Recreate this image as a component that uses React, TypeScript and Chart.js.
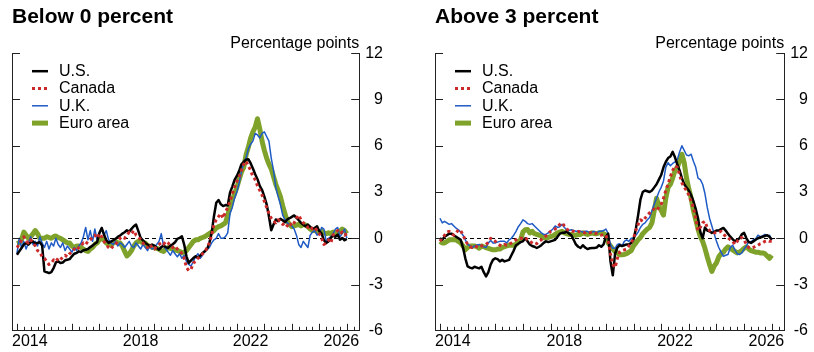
import React, { useEffect, useRef } from 'react';
import { Chart, registerables } from 'chart.js';

Chart.register(...registerables);

const FONT = "'Liberation Sans', Arial, Helvetica, sans-serif";
const AXIS = '#222222';

// Monthly observations, Jan 2014 .. Jan 2026
const START_YEAR = 2014;
const X_MIN = 2013.82;
const X_MAX = 2026.45;
const xTickValues = [X_MIN, 2018.5, 2022.5, X_MAX];
const xTickLabels = ['2014', '2018', '2022', '2026'];
const yTickValues = [-6, -3, 0, 3, 6, 9, 12];
const seriesNames = ['U.S.', 'Canada', 'U.K.', 'Euro area'];
const panelTitles = ['Below 0 percent', 'Above 3 percent'];
const unitLabel = 'Percentage points';

// ---- Panel 1: Below 0 percent ----
const belowUS = [
  -1.07, -0.85, -0.63, -0.41, -0.3, -0.41, -0.26, -0.2, -0.35, -0.3, -0.26, -0.48,
  -2.15, -2.2, -2.26, -2.2, -1.93, -1.57, -1.5, -1.6, -1.57, -1.43, -1.39, -1.35,
  -1.17, -1.0, -0.96, -0.85, -0.89, -0.78, -0.74, -0.7, -0.57, -0.48, -0.35, -0.26,
  0.35, 0.67, 0.24, -0.13, -0.3, -0.22, -0.13, -0.04, 0.09, 0.17, 0.3, 0.39,
  0.52, 0.43, 0.61, 0.78, 0.89, 0.46, 0.02, -0.13, -0.3, -0.41, -0.52, -0.41,
  -0.48, -0.63, -0.74, -0.57, -0.48, -0.57, -0.63, -0.48, -0.39, -0.26, -0.04, 0.02,
  0.13, -0.41, -1.17, -1.6, -1.43, -1.28, -1.17, -1.28, -1.13, -0.96, -0.85, -0.7,
  -0.3, 0.35, 1.43, 2.3, 2.48, 2.2, 2.09, 2.15, 2.13, 2.96, 3.35, 3.78,
  4.04, 4.37, 4.8, 4.96, 5.09, 5.13, 4.87, 4.52, 4.15, 3.83, 3.39, 3.13,
  2.7, 2.2, 1.43, 0.52, 0.89, 1.22, 1.11, 1.26, 1.17, 1.04, 1.22, 1.3,
  1.39, 1.48, 1.33, 1.17, 1.0, 0.87, 0.78, 0.89, 0.74, 0.61, 0.67, 0.78,
  0.46, 0.3, -0.13, -0.3, -0.2, 0.02, 0.17, 0.09, 0.24, -0.09, 0.02, -0.13,
  -0.04,
];
const belowCanada = [
  -0.6, -0.4, -0.1, 0.1, -0.2, -0.3, -0.1, -0.3, -0.5, -0.8, -0.9, -1.2,
  -1.3, -1.5, -1.7, -1.6, -1.4, -1.5, -1.3, -1.4, -1.2, -1.1, -1.2, -1.0,
  -0.9, -0.7, -0.8, -0.6, -0.5, -0.3, -0.4, -0.2, -0.1, 0.1, 0.2, 0.0,
  0.3, 0.1, -0.2, -0.4, -0.6, -0.7, -0.5, -0.4, -0.2, 0.0, 0.1, 0.0,
  0.2, 0.4, 0.3, 0.5, 0.2, 0.1, -0.1, -0.3, -0.5, -0.6, -0.4, -0.6,
  -0.7, -0.5, -0.4, -0.3, -0.4, -0.2, -0.3, -0.5, -0.6, -0.5, -0.7, -0.8,
  -1.0, -1.3, -1.9, -2.1, -2.0, -1.6, -1.5, -1.3, -1.2, -1.0, -0.9, -0.6,
  -0.3, 0.2, 0.9, 1.2, 1.4, 1.6, 1.3, 1.7, 2.0, 2.4, 2.9, 3.3,
  3.7, 4.0, 4.4, 4.8, 5.0, 4.7, 4.4, 4.0, 3.8, 3.4, 3.1, 2.8,
  2.4, 2.0, 1.6, 1.3, 1.1, 1.0, 1.2, 1.1, 0.9, 1.0, 0.8, 1.0,
  0.8, 1.0, 1.3, 1.5, 1.2, 1.0, 0.9, 0.7, 0.8, 0.6, 0.7, 0.5,
  0.3, 0.0, -0.4, -0.3, -0.1, -0.3, 0.2, 0.4, 0.5, 0.3, 0.4, 0.2,
  0.3,
];
const belowUK = [
  -1.0, 0.0, -0.6, -0.2, -0.7, -0.3, 0.1, -0.4, -0.2, -0.5, 0.1, -0.3,
  -0.6, -0.2, -0.7, -0.3, -0.5, 0.0, -0.4, -0.6, -0.3, -0.8, -0.5, -0.7,
  -0.9, -0.6, -0.8, -0.5, -0.3, 0.1, 0.7, -0.1, 0.5, -0.2, 0.6, -0.1,
  0.3, 0.7, 0.2, 0.5, -0.1, -0.3, -0.4, -0.2, -0.5, -0.3, -0.4, -0.6,
  -0.4, -0.2, -0.5, -0.6, -0.3, -0.5, -0.7, -0.4, -0.6, -0.8, -0.5, -0.7,
  -0.6, -0.4, -0.2, 0.3, -0.5, -0.7, -0.9, -1.1, -0.8, -1.0, -1.2, -1.0,
  -1.3, -1.1, -1.5, -1.7, -1.8, -1.5, -1.2, -1.0, -1.3, -1.1, -0.8, -0.7,
  -0.6, -0.3, -0.1, 0.0, 0.3, 0.0, 0.0, 0.1, 0.35, 1.6, 2.0, 2.6,
  3.0, 3.6, 4.3, 4.9, 5.2, 5.8, 6.1, 6.3, 6.8, 6.7, 6.5, 6.8,
  6.9, 6.6, 6.3, 5.2, 4.4, 3.3, 2.7, 2.2, 1.5, 1.2, 1.0, 0.9,
  0.8, 0.6, 0.2, -0.4, -0.6, -0.2, -0.4, -0.6, 0.2, 0.4, 0.5, 0.2,
  0.3, 0.7, 0.6, -0.2, 0.0, 0.1, 0.3, 0.6, 0.7, 0.1, 0.3, 0.6,
  0.0,
];
const belowEuro = [
  -0.35, -0.3, -0.1, 0.4, 0.2, 0.0, 0.1, 0.3, 0.5, 0.3, 0.0, 0.0,
  0.0, 0.1, 0.05, 0.0, 0.1, 0.15, 0.05, 0.0, -0.1, -0.2, -0.3, -0.3,
  -0.5, -0.6, -0.5, -0.5, -0.6, -0.7, -0.8, -0.85, -0.7, -0.6, -0.4, -0.3,
  -0.1, 0.0, -0.1, -0.3, -0.4, -0.45, -0.3, -0.2, -0.3, -0.3, -0.5, -0.85,
  -1.15, -1.0, -0.8, -0.5, -0.3, -0.2, -0.2, -0.3, -0.3, -0.5, -0.5, -0.6,
  -0.6, -0.65, -0.7, -0.8, -0.85, -0.7, -0.6, -0.65, -0.7, -0.75, -0.8, -0.85,
  -0.95, -0.9, -0.8, -0.6, -0.4, -0.2, -0.1, -0.1, 0.0, 0.05, 0.1, 0.2,
  0.3, 0.4, 0.5, 0.67, 0.75, 0.8, 0.9, 1.0, 1.5, 2.0, 2.5, 2.9,
  3.3, 3.8, 4.3, 4.6, 5.4, 5.9, 6.5, 6.9, 7.2, 7.75, 7.1, 6.3,
  5.7, 5.2, 4.8, 4.5, 4.0, 3.5, 3.1, 2.7, 2.1, 1.6, 1.1, 0.9,
  0.75, 0.8, 0.85, 0.9, 0.8, 0.9, 0.85, 0.75, 0.6, 0.5, 0.5, 0.45,
  0.4, 0.45, 0.35, 0.3, 0.35, 0.3, 0.4, 0.35, 0.3, 0.45, 0.6, 0.5,
  0.3,
];

// ---- Panel 2: Above 3 percent ----
const aboveUS = [
  0.0, -0.1, 0.1, 0.2, 0.3, 0.3, 0.2, 0.1, 0.0, -0.1, -0.6, -1.3,
  -1.83, -1.9, -1.95, -1.85, -1.9, -1.95, -1.85, -2.2, -2.48, -2.2, -1.7, -1.4,
  -1.3, -1.35, -1.5, -1.4, -1.5, -1.45, -1.4, -1.1, -0.8, -0.45, -0.35, -0.25,
  -0.2, 0.0, -0.2, -0.4, -0.5, -0.55, -0.63, -0.55, -0.45, -0.3, -0.2, -0.25,
  -0.2, -0.15, -0.1, 0.1, 0.3, 0.35, 0.35, 0.45, 0.3, 0.2, -0.1, -0.4,
  -0.55, -0.63, -0.45, -0.6, -0.7, -0.65, -0.63, -0.63, -0.6, -0.45, -0.55, -0.4,
  0.1, 0.3, -1.5, -2.4, -1.0, -0.6, -0.45, -0.5, -0.45, -0.4, -0.4, -0.3,
  -0.1, 0.6, 1.5, 2.5, 3.0, 3.1, 3.05, 3.0, 3.1, 3.3, 3.5, 3.8,
  4.1, 4.6, 4.95, 5.2, 5.3, 5.6, 5.25, 4.8, 4.4, 3.9, 3.5, 3.3,
  3.1, 2.8, 2.4, 1.9, 1.3, 0.4, 0.0, 0.7, 0.5, 0.45, 0.35, 0.4,
  0.5, 0.5, 0.6, 0.67, 0.5, 0.3, 0.1, -0.05, -0.2, -0.1, 0.0, 0.25,
  0.35, 0.0, -0.25, -0.3, -0.2, -0.1, 0.0, 0.05, 0.1, 0.15, 0.2, 0.1,
  -0.1,
];
const aboveCanada = [
  -0.2, 0.0, 0.2, 0.4, 0.45, 0.3, 0.2, 0.35, 0.55, 0.5, 0.2, -0.1,
  -0.4, -0.55, -0.6, -0.5, -0.55, -0.6, -0.5, -0.45, -0.4, -0.25, 0.0, -0.1,
  -0.2, -0.35, -0.45, -0.5, -0.4, -0.45, -0.4, -0.3, -0.2, -0.1, 0.0, 0.0,
  0.0, 0.05, -0.1, -0.2, -0.3, -0.4, -0.35, -0.2, -0.1, 0.05, 0.15, 0.3,
  0.45, 0.5, 0.6, 0.7, 0.9, 1.0, 0.8, 0.6, 0.5, 0.45, 0.45, 0.4,
  0.45, 0.4, 0.4, 0.35, 0.4, 0.35, 0.4, 0.35, 0.3, 0.25, 0.2, 0.25,
  0.2, -0.2, -1.0, -1.7, -1.9, -1.3, -0.9, -0.8, -0.75, -0.7, -0.5, -0.3,
  0.0, 0.5, 0.9, 1.2, 1.1, 1.3, 1.5, 1.65, 1.8, 1.9, 1.8, 2.0,
  2.2, 2.6, 3.1, 3.5, 4.0, 4.4, 4.7, 4.6, 4.1, 3.6, 3.3, 3.1,
  2.8, 2.4, 2.0, 1.3, 0.5, 0.7, 1.0, 1.1, 0.7, 0.5, 0.45, 0.35,
  0.35, 0.4, 0.45, 0.3, 0.1, 0.05, -0.1, -0.2, -0.4, -0.2, 0.0, 0.05,
  -0.1, -0.4, -0.6, -0.65, -0.6, -0.5, -0.45, -0.35, -0.3, -0.2, -0.15, -0.2,
  -0.2,
];
const aboveUK = [
  1.3, 1.0, 1.1, 1.0, 0.9, 0.95, 0.8, 0.65, 0.55, 0.4, 0.2, -0.1,
  -0.4, -0.5, -0.6, -0.5, -0.45, -0.4, -0.5, -0.55, -0.6, -0.3, -0.15, -0.3,
  -0.3, -0.25, -0.2, -0.2, -0.2, -0.3, -0.1, 0.0, 0.2, 0.45, 0.75, 0.95,
  1.2, 1.1, 0.95, 0.9, 0.95, 0.8, 0.65, 0.5, 0.35, 0.25, 0.25, 0.35,
  0.45, 0.6, 0.8, 0.7, 0.75, 0.9, 0.7, 0.55, 0.5, 0.55, 0.5, 0.45,
  0.45, 0.45, 0.4, 0.45, 0.45, 0.35, 0.4, 0.45, 0.35, 0.45, 0.45, 0.5,
  0.6, 0.3, -0.4, -0.65, -0.65, -0.4, -0.35, -0.5, -0.2, -0.1, -0.2, 0.0,
  0.0, 0.2, 0.4, 0.7, 0.9, 1.0, 1.2, 1.35, 1.8, 2.2, 2.6, 3.0,
  3.3, 3.7, 4.6, 4.9, 4.7, 4.85, 4.95, 5.1, 5.6, 6.0, 5.7, 5.4,
  5.35, 5.45, 5.0, 4.6, 3.9, 3.8, 3.5, 2.9, 2.0, 1.3, 0.8, 0.3,
  -0.2, -0.6, -0.9, -1.17, -1.1, -1.05, -0.6, -0.45, -0.75, -1.0, -1.05, -0.95,
  -0.7, -0.5, -0.2, -0.25, -0.1, -0.05, 0.2, 0.1, 0.15, 0.25, 0.15, 0.2,
  -0.1,
];
const aboveEuro = [
  -0.2, -0.3, -0.3, -0.2, -0.1, -0.1, -0.1, -0.1, -0.2, -0.3, -0.5, -0.75,
  -0.6, -0.5, -0.5, -0.5, -0.55, -0.65, -0.5, -0.55, -0.6, -0.65, -0.7, -0.75,
  -0.75, -0.7, -0.7, -0.6, -0.55, -0.5, -0.45, -0.45, -0.45, -0.4, -0.2, -0.1,
  0.4, 0.55, 0.57, 0.35, 0.45, 0.3, 0.25, 0.2, 0.15, 0.05, 0.0, 0.05,
  0.1, 0.15, 0.25, 0.35, 0.4, 0.45, 0.35, 0.3, 0.25, 0.25, 0.2, 0.2,
  0.25, 0.25, 0.35, 0.3, 0.25, 0.3, 0.35, 0.3, 0.3, 0.35, 0.35, 0.3,
  0.2, -0.3, -0.5, -0.7, -0.85, -0.95, -1.07, -1.07, -1.05, -1.0, -0.9, -0.8,
  -0.5, -0.3, -0.1, 0.05, 0.3, 0.45, 0.6, 0.7, 1.0, 1.8, 2.6, 2.1,
  1.8, 1.5, 2.6, 3.3, 3.5, 3.9, 4.4, 4.6, 5.0, 5.45, 4.9, 3.9,
  3.2, 2.6, 1.8, 1.2, 0.6, 0.1, -0.2, -0.65, -1.2, -1.7, -2.15, -1.8,
  -1.6, -1.2, -1.0, -0.9, -0.7, -0.55, -0.65, -0.75, -0.85, -0.95, -0.9, -0.8,
  -0.65, -0.55, -0.7, -0.8, -0.85, -0.9, -0.9, -0.95, -0.95, -1.0, -1.15, -1.3,
  -1.1,
];

const months = belowUS.map((_, i) => START_YEAR + i / 12);

const seriesStyles = [
  { color: '#000000', width: 2.5, dash: [] as number[], order: 1 },
  { color: '#cc2a2a', width: 3, dash: [3, 3], order: 0 },
  { color: '#1f5bc6', width: 1.5, dash: [] as number[], order: 2 },
  { color: '#7fa22a', width: 5, dash: [] as number[], order: 3 },
];

const frameTicksPlugin = {
  id: 'frameTicks',
  afterDraw(chart: any) {
    const { ctx, chartArea: a, scales } = chart;
    const x = scales.x;
    const y = scales.y;
    ctx.save();
    ctx.strokeStyle = AXIS;
    ctx.lineWidth = 1;
    ctx.beginPath();
    for (const t of y.ticks) {
      if (t.value <= y.min) continue;
      const py = Math.round(y.getPixelForValue(t.value)) + 0.5;
      ctx.moveTo(a.left, py);
      ctx.lineTo(a.left + 8, py);
      ctx.moveTo(a.right, py);
      ctx.lineTo(a.right - 8, py);
    }
    for (let q = Math.ceil(X_MIN * 4); q / 4 <= X_MAX; q++) {
      const px = Math.round(x.getPixelForValue(q / 4)) + 0.5;
      const len = q % 4 === 0 ? 7 : 4;
      ctx.moveTo(px, a.bottom);
      ctx.lineTo(px, a.bottom - len);
    }
    ctx.stroke();
    ctx.fillStyle = '#000';
    ctx.font = `16px ${FONT}`;
    ctx.textAlign = 'right';
    ctx.textBaseline = 'alphabetic';
    ctx.fillText(unitLabel, a.right, a.top - 5);
    ctx.restore();
  },
};

const insideLegendPlugin = {
  id: 'insideLegend',
  afterDatasetsDraw(chart: any) {
    const { ctx, chartArea: a } = chart;
    chart.data.datasets.forEach((ds: any, k: number) => {
      const yy = a.top + 18 + k * 17.3;
      ctx.save();
      ctx.strokeStyle = ds.borderColor;
      ctx.lineWidth = ds.borderWidth;
      ctx.setLineDash(ds.borderDash || []);
      ctx.beginPath();
      ctx.moveTo(a.left + 20, yy);
      ctx.lineTo(a.left + 36, yy);
      ctx.stroke();
      ctx.setLineDash([]);
      ctx.fillStyle = '#000';
      ctx.font = `16px ${FONT}`;
      ctx.textAlign = 'left';
      ctx.textBaseline = 'middle';
      ctx.fillText(ds.label, a.left + 47, yy + 0.5);
      ctx.restore();
    });
  },
};

function Panel({ title, series, width, padRight, left }: { title: string; series: number[][]; width: number; padRight: number; left: number }) {
  const ref = useRef<HTMLCanvasElement>(null);
  useEffect(() => {
    const tickFont = { family: FONT, size: 16 };
    const chart = new Chart(ref.current as HTMLCanvasElement, {
      type: 'line',
      data: {
        datasets: series.map((vals, k) => ({
          label: seriesNames[k],
          data: vals.map((v, i) => ({ x: months[i], y: v })),
          borderColor: seriesStyles[k].color,
          backgroundColor: seriesStyles[k].color,
          borderWidth: seriesStyles[k].width,
          borderDash: seriesStyles[k].dash,
          borderCapStyle: 'butt',
          borderJoinStyle: 'round',
          pointRadius: 0,
          pointHoverRadius: 0,
          tension: 0,
          fill: false,
          order: seriesStyles[k].order,
          yAxisID: 'y',
        })),
      } as any,
      options: {
        animation: false,
        responsive: false,
        devicePixelRatio: 1,
        events: [],
        layout: { padding: { left: 12, right: padRight, top: 0, bottom: 0 } },
        plugins: {
          legend: { display: false },
          tooltip: { enabled: false },
          title: {
            display: true,
            text: title,
            align: 'start',
            color: '#000',
            font: { family: FONT, size: 21, weight: 'bold' },
            padding: { top: 5, bottom: 23 },
          },
        },
        scales: {
          x: {
            type: 'linear',
            min: X_MIN,
            max: X_MAX,
            afterBuildTicks: (s: any) => {
              s.ticks = xTickValues.map((v) => ({ value: v }));
            },
            grid: { display: false, drawTicks: false },
            border: { display: true, color: AXIS, width: 1 },
            ticks: {
              autoSkip: false,
              maxRotation: 0,
              minRotation: 0,
              align: 'inner',
              padding: 1,
              color: '#000',
              font: tickFont,
              callback: (_v: any, i: number) => xTickLabels[i],
            },
          },
          y: {
            type: 'linear',
            position: 'right',
            min: -6,
            max: 12,
            afterBuildTicks: (s: any) => {
              s.ticks = yTickValues.map((v) => ({ value: v }));
            },
            grid: {
              display: true,
              drawTicks: false,
              drawOnChartArea: true,
              lineWidth: 1,
              color: (c: any) => (c.tick && c.tick.value === 0 ? '#000' : 'rgba(0,0,0,0)'),
            },
            border: { display: true, color: AXIS, width: 1, dash: [4, 3] },
            ticks: {
              crossAlign: 'far',
              padding: 3,
              color: '#000',
              font: tickFont,
              callback: (v: any) => String(v),
            },
          },
          yl: {
            type: 'linear',
            position: 'left',
            min: -6,
            max: 12,
            grid: { display: false, drawTicks: false },
            border: { display: true, color: AXIS, width: 1 },
            ticks: { display: false },
          },
        },
      } as any,
      plugins: [frameTicksPlugin, insideLegendPlugin],
    });
    return () => chart.destroy();
  }, []);
  return (
    <div style={{ position: 'absolute', left, top: 0, width, height: 352 }}>
      <canvas ref={ref} width={width} height={352} style={{ display: 'block' }} />
    </div>
  );
}

export default function App() {
  return (
    <div style={{ position: 'fixed', left: 0, top: 0, width: 814, height: 352, background: '#fff', overflow: 'hidden' }}>
      <Panel title={panelTitles[0]} series={[belowUS, belowCanada, belowUK, belowEuro]} width={400} padRight={17} left={0} />
      <Panel title={panelTitles[1]} series={[aboveUS, aboveCanada, aboveUK, aboveEuro]} width={391} padRight={6} left={423} />
    </div>
  );
}
